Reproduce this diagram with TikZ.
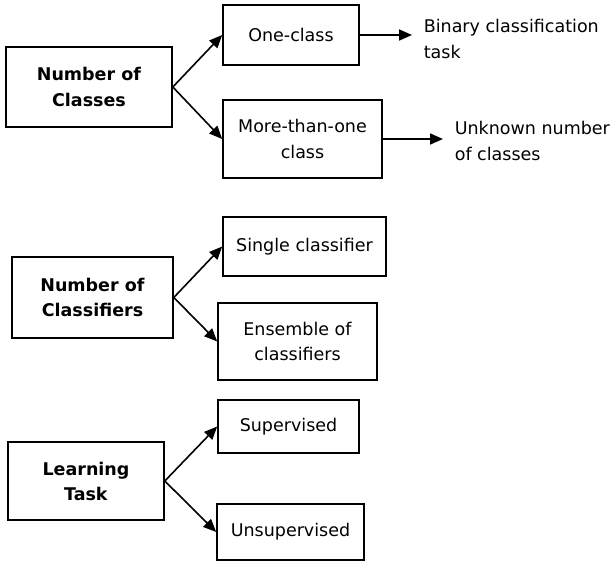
\documentclass[tikz,border=0pt]{standalone}
\usepackage{fontspec}
\setmainfont{DejaVu Sans}
\usetikzlibrary{arrows.meta}

\begin{document}
\begin{tikzpicture}[x=1pt,y=-1pt,line width=1.6pt,>={Triangle[length=13pt,width=11pt]}]
						\tikzstyle{box}=[draw=black,inner sep=0pt,align=center]
						\tikzstyle{topbox}=[box,font=\fontsize{17.5}{26}\selectfont]
						\tikzstyle{lowbox}=[box,font=\fontsize{17.5}{25}\selectfont]
						\tikzstyle{note}=[inner sep=0pt,align=left,anchor=west,font=\fontsize{17.5}{26}\selectfont]
						\useasboundingbox (0,0) rectangle (613,561);
						% number of classes
						\node[topbox,minimum width=166pt,minimum height=80pt](c0) at (89,87) {\textbf{Number of}\\\textbf{Classes}};
						\node[topbox,minimum width=136pt,minimum height=60pt](c1) at (291,35) {One-class};
						\node[topbox,minimum width=159pt,minimum height=78pt](c2) at (302.5,139) {More-than-one\\class};
						\node[note](n1) at (423,39) {Binary classification\\task};
						\node[note](n2) at (454,141) {Unknown number\\of classes};
						\draw[->](c0.east) -- (c1.west);
						\draw[->](c0.east) -- (c2.west);
						\draw[->,shorten >=11pt](c1.east) -- (c1.east -| n1.west);
						\draw[->,shorten >=11pt](c2.east) -- (c2.east -| n2.west);
						% number of classifiers
						\node[lowbox,minimum width=161pt,minimum height=81pt](k0) at (92.5,297.5) {\textbf{Number of}\\\textbf{Classifiers}};
						\node[lowbox,minimum width=163pt,minimum height=59pt](k1) at (304.5,246.5) {Single classifier};
						\node[lowbox,minimum width=159pt,minimum height=77pt](k2) at (297.5,341.5) {Ensemble of\\classifiers};
						\draw[->](k0.east) -- (k1.west);
						\draw[->](k0.east) -- (k2.west);
						% learning task
						\node[lowbox,minimum width=156pt,minimum height=78pt](l0) at (86,481) {\textbf{Learning}\\\textbf{Task}};
						\node[lowbox,minimum width=141pt,minimum height=53pt](l1) at (288.5,426.5) {Supervised};
						\node[lowbox,minimum width=147pt,minimum height=56pt](l2) at (290.5,532) {Unsupervised};
						\draw[->](l0.east) -- (l1.west);
						\draw[->](l0.east) -- (l2.west);
					\end{tikzpicture}
\end{document}
